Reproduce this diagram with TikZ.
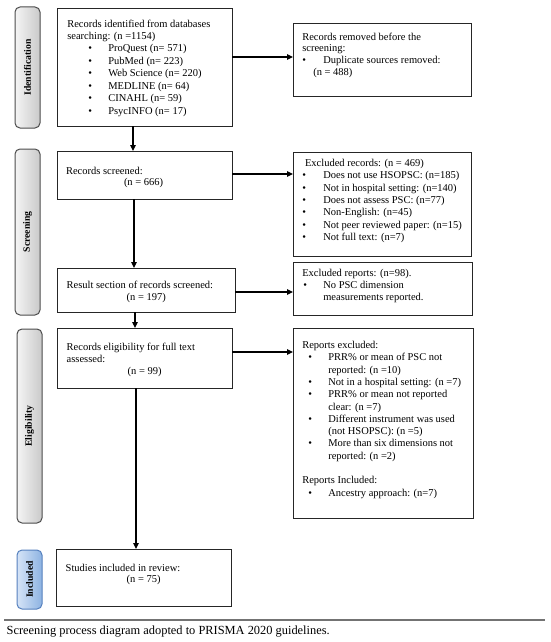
\documentclass[tikz,border=0pt]{standalone}
\usepackage{fontspec}
\setmainfont{Liberation Serif}
\usetikzlibrary{arrows.meta,calc}
\newcommand{\bi}[3]{\hspace*{#1pt}\makebox[\dimexpr#2pt-#1pt\relax][l]{\textbullet}#3}
\definecolor{incL}{RGB}{214,228,247}
\definecolor{incR}{RGB}{141,179,226}
\definecolor{incB}{RGB}{85,128,190}
\tikzset{
  box/.style={draw=black!85, line width=0.9pt, inner sep=0pt, outer sep=0pt},
  txt/.style={anchor=base west, inner sep=0pt, outer sep=0pt},
  arr/.style={-{Triangle[length=6pt,width=5.5pt]}, line width=1.1pt},
  phase/.style={draw=black!70, line width=1pt, rounded corners=5pt, left color=gray!8, right color=gray!42, inner sep=0pt},
  incphase/.style={draw=incB, line width=1pt, rounded corners=5pt, left color=incL, right color=incR, inner sep=0pt},
  phaselbl/.style={rotate=90, inner sep=0pt, font=\fontsize{9.7}{10}\selectfont\bfseries},
}
\begin{document}
\begin{tikzpicture}[x=1pt,y=-1pt]
\useasboundingbox (0,0) rectangle (550,642);
% phase bars
\node[phase, minimum width=25pt, minimum height=121pt] (p1) at (27.5,67.5) {};
\node[phase, minimum width=25pt, minimum height=166pt] (p2) at (27.5,232) {};
\node[phase, minimum width=25pt, minimum height=194pt] (p3) at (29.5,426) {};
\node[incphase, minimum width=25pt, minimum height=59pt] (p4) at (29.5,579.5) {};
\node[phaselbl] (l1) at (p1.center) {Identification};
\node[phaselbl] (l2) at (p2.center) {Screening};
\node[phaselbl] (l3) at (p3.center) {Eligibility};
\node[phaselbl] (l4) at (p4.center) {Included};
% main boxes
\node[box, minimum width=175pt, minimum height=118pt] (b1) at (144.5,67) {};
\node[box, minimum width=175pt, minimum height=48pt] (b2) at (144.5,175) {};
\node[box, minimum width=178pt, minimum height=44pt] (b3) at (146,290) {};
\node[box, minimum width=175pt, minimum height=60pt] (b4) at (144.5,358) {};
\node[box, minimum width=175pt, minimum height=57pt] (b5) at (143.5,577.5) {};
% right boxes
\node[box, minimum width=178pt, minimum height=73pt] (r1) at (382,59.5) {};
\node[box, minimum width=178pt, minimum height=104pt] (r2) at (382,204) {};
\node[box, minimum width=179pt, minimum height=53pt] (r3) at (382.5,288.5) {};
\node[box, minimum width=180pt, minimum height=190pt] (r4) at (383,423) {};
% texts
\node[txt, font=\fontsize{10.5}{12}\selectfont] (t1) at (67.3,27.5) {\begin{tabular}[t]{@{}l@{}}
Records identified from databases\\
searching: (n =1154)\\
\bi{21}{41}{ProQuest (n= 571)}\\[0.6pt]
\bi{21}{41}{PubMed (n= 223)}\\[0.6pt]
\bi{21}{41}{Web Science (n= 220)}\\[0.6pt]
\bi{21}{41}{MEDLINE (n= 64)}\\[0.6pt]
\bi{21}{41}{CINAHL (n= 59)}\\[0.6pt]
\bi{21}{41}{PsycINFO (n= 17)}
\end{tabular}};
\node[txt, font=\fontsize{10.5}{11.7}\selectfont] (t2) at (66,174.2) {\begin{tabular}[t]{@{}l@{}}
Records screened:\\
\hspace*{58pt}(n = 666)
\end{tabular}};
\node[txt, font=\fontsize{10.5}{12.2}\selectfont] (t3) at (66.7,288.5) {\begin{tabular}[t]{@{}l@{}}
Result section of records screened:\\
\hspace*{60pt}(n = 197)
\end{tabular}};
\node[txt, font=\fontsize{10.5}{11.9}\selectfont] (t4) at (66.7,350.8) {\begin{tabular}[t]{@{}l@{}}
Records eligibility for full text\\
assessed:\\
\hspace*{61pt}(n = 99)
\end{tabular}};
\node[txt, font=\fontsize{10.5}{11.4}\selectfont] (t5) at (65.7,571.2) {\begin{tabular}[t]{@{}l@{}}
Studies included in review:\\
\hspace*{61pt}(n = 75)
\end{tabular}};
\node[txt, font=\fontsize{10.5}{11.7}\selectfont] (s1) at (302.3,40.2) {\begin{tabular}[t]{@{}l@{}}
Records removed before the\\
screening:\\
\bi{0}{21}{Duplicate sources removed:}\\
\hspace*{11pt}(n = 488)
\end{tabular}};
\node[txt, font=\fontsize{10.5}{12.4}\selectfont] (s2) at (302.3,166.2) {\begin{tabular}[t]{@{}l@{}}
\hspace*{2.7pt}Excluded records: (n = 469)\\
\bi{0}{21}{Does not use HSOPSC: (n=185)}\\
\bi{0}{21}{Not in hospital setting: (n=140)}\\
\bi{0}{21}{Does not assess PSC: (n=77)}\\
\bi{0}{21}{Non-English: (n=45)}\\
\bi{0}{21}{Not peer reviewed paper: (n=15)}\\
\bi{0}{21}{Not full text: (n=7)}
\end{tabular}};
\node[txt, font=\fontsize{10.5}{12}\selectfont] (s3) at (302.3,276.2) {\begin{tabular}[t]{@{}l@{}}
Excluded reports: (n=98).\\
\bi{1}{21}{No PSC dimension}\\
\hspace*{21pt}measurements reported.
\end{tabular}};
\node[txt, font=\fontsize{10.5}{12.3}\selectfont] (s4) at (302.3,348.5) {\begin{tabular}[t]{@{}l@{}}
Reports excluded:\\
\bi{6}{26}{PRR\% or mean of PSC not}\\
\hspace*{26pt}reported: (n =10)\\
\bi{6}{26}{Not in a hospital setting: (n =7)}\\
\bi{6}{26}{PRR\% or mean not reported}\\
\hspace*{26pt}clear: (n =7)\\
\bi{6}{26}{Different instrument was used}\\
\hspace*{26pt}(not HSOPSC): (n =5)\\
\bi{6}{26}{More than six dimensions not}\\
\hspace*{26pt}reported: (n =2)\\
\\
Reports Included:\\
\bi{6}{26}{Ancestry approach: (n=7)}
\end{tabular}};
% vertical arrows
\draw[arr] ([xshift=-11.5pt]b1.south) -- ([xshift=-11.5pt]b1.south |- b2.north);
\draw[arr] ([xshift=-10.5pt]b2.south) -- ([xshift=-10.5pt]b2.south |- b3.north);
\draw[arr] ([xshift=-11pt]b3.south) -- ([xshift=-11pt]b3.south |- b4.north);
\draw[arr] ([xshift=-8.5pt]b4.south) -- ([xshift=-8.5pt]b4.south |- b5.north);
% horizontal arrows
\draw[arr] ([yshift=10pt]b1.east) -- ([yshift=10pt]b1.east -| r1.west);
\draw[arr] ([yshift=1pt]b2.east) -- ([yshift=1pt]b2.east -| r2.west);
\draw[arr] ([yshift=-2pt]b3.east) -- ([yshift=-2pt]b3.east -| r3.west);
\draw[arr] ([yshift=6pt]b4.east) -- ([yshift=6pt]b4.east -| r4.west);
% caption
\draw[black!55, line width=2pt] (4,620) -- (545,620);
\node[txt, font=\fontsize{12.4}{14}\selectfont] (cap) at (6.7,634.5) {Screening process diagram adopted to PRISMA 2020 guidelines.};
\end{tikzpicture}
\end{document}
